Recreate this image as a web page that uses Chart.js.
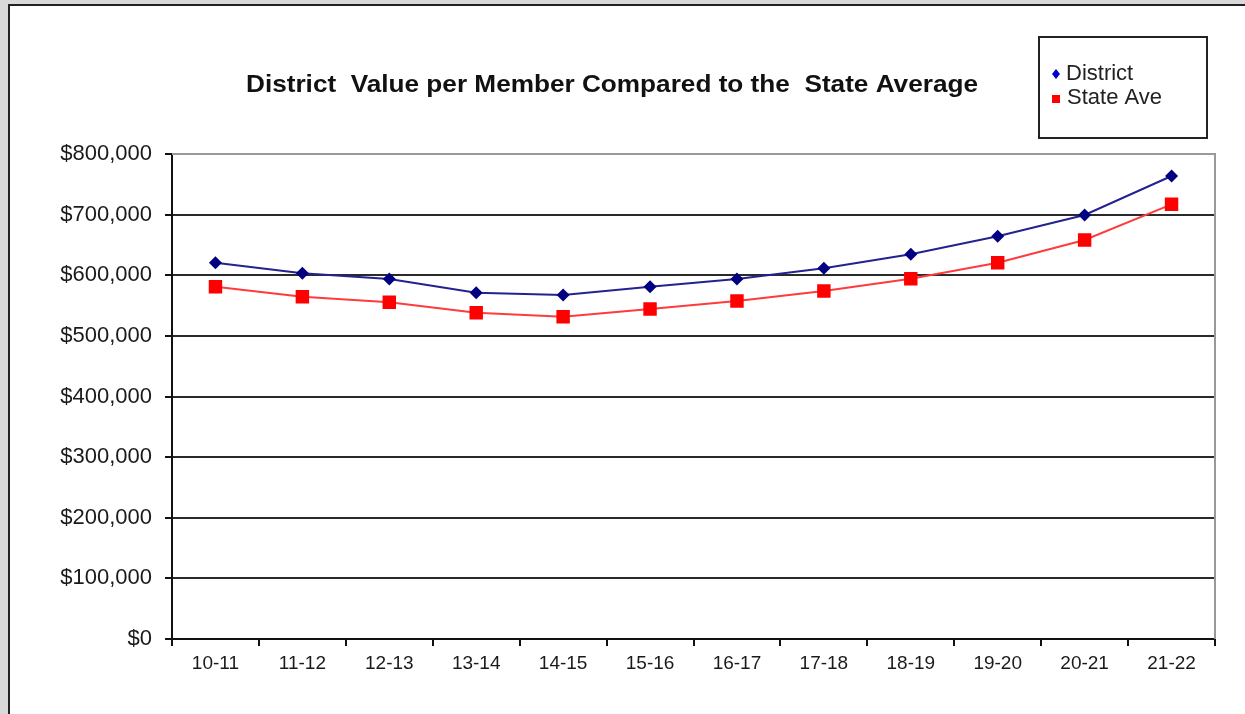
<!DOCTYPE html>
<html lang="en">
<head>
<meta charset="UTF-8">
<title>District Value per Member</title>
<style>
  html, body { margin: 0; padding: 0; background: #d9d9d9; }
  #wrap { position: relative; width: 1245px; height: 714px; }
</style>
</head>
<body>
<div id="wrap"><canvas id="chart" width="1245" height="714"></canvas></div>

<script src="https://cdn.jsdelivr.net/npm/chart.js"></script>
<script>
// chart data
const years = ['10-11', '11-12', '12-13', '13-14', '14-15', '15-16', '16-17', '17-18', '18-19', '19-20', '20-21', '21-22'];
const districtValues = [620700, 603200, 593800, 571200, 567400, 581000, 593800, 611500, 634500, 664200, 699400, 763700];
const stateValues = [581100, 564600, 555400, 538200, 531600, 544300, 557500, 574000, 594300, 620700, 658100, 717000];
const yTicksMax = 800000;
const yTickStep = 100000;

// white panel, title, framed legend
const frame = {
  id: 'frame',
  beforeDraw(chart) {
    const c = chart.ctx;
    c.save();
    c.fillStyle = '#d9d9d9';
    c.fillRect(0, 0, chart.width, chart.height);
    c.fillStyle = '#fff';
    c.fillRect(8, 4, chart.width - 8, chart.height - 4);
    c.strokeStyle = '#222';
    c.lineWidth = 2;
    c.beginPath();
    c.moveTo(9, chart.height);
    c.lineTo(9, 5);
    c.lineTo(chart.width, 5);
    c.stroke();
    c.restore();
  },
  afterDraw(chart) {
    const c = chart.ctx;
    const a = chart.chartArea;
    c.save();
    // gray plot border on top/right
    c.strokeStyle = '#999';
    c.lineWidth = 2;
    c.beginPath();
    c.moveTo(a.left, a.top);
    c.lineTo(a.right, a.top);
    c.lineTo(a.right, a.bottom);
    c.stroke();

    // title, stretched a little to the reference width
    const title = 'District  Value per Member Compared to the  State Average';
    c.fillStyle = '#111';
    c.font = 'bold 24px Arial, "Liberation Sans", sans-serif';
    c.textAlign = 'center';
    c.textBaseline = 'middle';
    const sx = 732 / c.measureText(title).width;
    c.save();
    c.translate(612, 85);
    c.scale(sx, 1);
    c.fillText(title, 0, 0);
    c.restore();

    // legend box
    c.strokeStyle = '#222';
    c.lineWidth = 2;
    c.strokeRect(1039, 37, 168, 101);
    c.font = '22px Arial, "Liberation Sans", sans-serif';
    c.textAlign = 'left';
    c.fillStyle = '#222';
    c.fillText('District', 1066, 74);
    c.fillText('State Ave', 1067, 98);
    c.fillStyle = '#0000cc';
    c.beginPath();
    c.moveTo(1056, 69); c.lineTo(1060, 74); c.lineTo(1056, 79); c.lineTo(1052, 74);
    c.closePath();
    c.fill();
    c.fillStyle = '#ff0000';
    c.fillRect(1052, 95, 8, 8);
    c.restore();
  }
};

new Chart(document.getElementById('chart'), {
  type: 'line',
  data: {
    labels: years,
    datasets: [
      {
        label: 'District',
        data: districtValues,
        borderColor: '#23238f',
        backgroundColor: '#000080',
        borderWidth: 2,
        pointStyle: 'rectRot',
        pointRadius: 6.5,
        pointBorderWidth: 0,
        pointBackgroundColor: '#000080',
        tension: 0
      },
      {
        label: 'State Ave',
        data: stateValues,
        borderColor: '#ff3b3b',
        backgroundColor: '#ff0000',
        borderWidth: 2,
        pointStyle: 'rect',
        pointRadius: 9.5,
        pointBorderWidth: 0,
        pointBackgroundColor: '#ff0000',
        tension: 0
      }
    ]
  },
  options: {
    responsive: false,
    animation: false,
    layout: { padding: { left: 0, top: 154, right: 30, bottom: 0 } },
    plugins: {
      legend: { display: false },
      title: { display: false },
      tooltip: { enabled: false }
    },
    scales: {
      x: {
        offset: true,
        afterFit(scale) { scale.height = 75; },
        border: { color: '#111', width: 2 },
        grid: {
          offset: true,
          drawOnChartArea: false,
          tickLength: 7,
          tickColor: '#111',
          lineWidth: 2
        },
        ticks: {
          color: '#1a1a1a',
          padding: 6,
          maxRotation: 0,
          font: { family: 'Arial, "Liberation Sans", sans-serif', size: 19 }
        }
      },
      y: {
        min: 0,
        max: yTicksMax,
        afterFit(scale) { scale.width = 172; },
        border: { color: '#111', width: 2 },
        grid: {
          color: ctx => (ctx.tick && ctx.tick.value === yTicksMax) ? 'rgba(0,0,0,0)' : '#2a2a2a',
          lineWidth: 2,
          tickLength: 7,
          tickColor: '#111'
        },
        ticks: {
          stepSize: yTickStep,
          color: '#1a1a1a',
          padding: 13,
          font: { family: 'Arial, "Liberation Sans", sans-serif', size: 22 },
          callback: v => '$' + Number(v).toLocaleString('en-US')
        }
      }
    }
  },
  plugins: [frame]
});
</script>
</body>
</html>
